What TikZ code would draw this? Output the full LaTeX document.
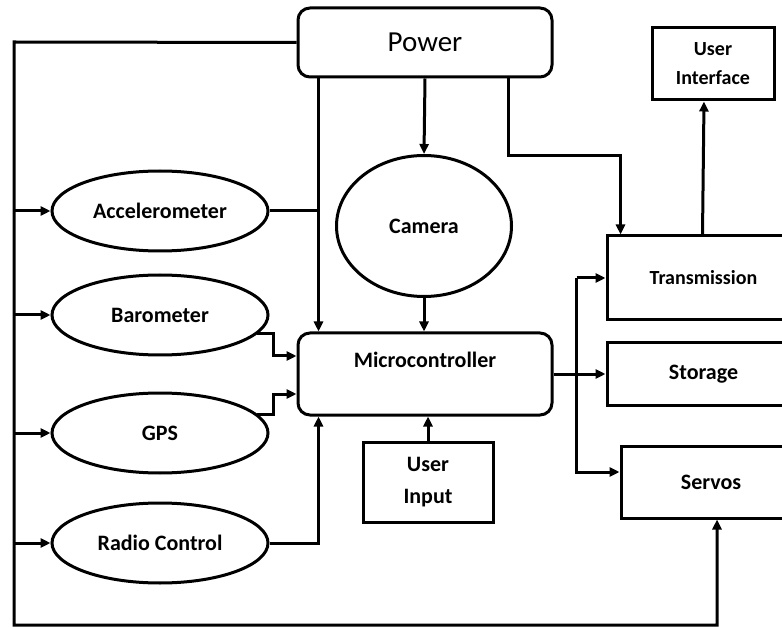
\documentclass[tikz,border=0pt]{standalone}
\usepackage{fontspec}
\setmainfont{Carlito}
\usetikzlibrary{shapes.geometric,arrows.meta,calc}
\begin{document}
\begin{tikzpicture}[x=1pt,y=-1pt,
  line width=3pt,
  arr/.style={-{Triangle[length=10pt,width=9pt]}},
  txt/.style={font=\fontsize{22}{28}\selectfont\bfseries},
  ell/.style={draw,ellipse,inner sep=0pt,minimum width=216pt,minimum height=80pt,txt},
  rbox/.style={draw,rounded corners=12pt,inner sep=0pt},
  sbox/.style={draw,rectangle,inner sep=0pt,txt,align=center}]
\useasboundingbox (0,0) rectangle (782,628);
\clip (0,0) rectangle (782,628);
\fill[white] (0,0) rectangle (782,628);
% nodes
\node[rbox,minimum width=254pt,minimum height=69pt,font=\fontsize{29}{34}\selectfont] (pw) at (425,42.5) {Power};
\node[ell] (acc) at (160,211) {Accelerometer};
\node[ell] (baro) at (160,315) {Barometer};
\node[ell] (gps) at (160,433) {GPS};
\node[ell] (rc) at (160,543) {Radio Control};
\node[ell,minimum width=175pt,minimum height=141pt] (cam) at (424,226) {Camera};
\node[rbox,minimum width=254pt,minimum height=82pt] (mc) at (425,374) {};
\node[txt,anchor=center] (mct) at ($(mc.center)+(0,-14)$) {Microcontroller};
\node[sbox,minimum width=130pt,minimum height=80pt,font=\fontsize{22}{32}\selectfont\bfseries] (uin) at (428,482) {User\\Input};
\node[sbox,minimum width=122pt,minimum height=72pt,font=\fontsize{20}{29}\selectfont\bfseries] (uif) at (713,64) {User\\Interface};
\node[sbox,minimum width=193pt,minimum height=84pt,font=\fontsize{20}{24}\selectfont\bfseries] (tx) at (703.5,278) {Transmission};
\node[sbox,minimum width=193pt,minimum height=62pt] (st) at (703.5,374) {Storage};
\node[sbox,minimum width=180pt,minimum height=72pt] (sv) at (711,482) {Servos};
% helper coordinates
\coordinate (tl) at (14,42);
\coordinate (bl) at (14,625);
\coordinate (p1) at ($(pw.south west)+(22,0)$);
\coordinate (p3) at ($(pw.south west)+(212,0)$);
\coordinate (tn) at ($(tx.north west)+(15,0)$);
\coordinate (bx) at ($(mc.east)+(23,0)$);
% power distribution
\draw[arr] (pw.west) -- (tl) -- (bl) -| ($(sv.south)+(6,0)$);
\draw[arr] (tl |- acc.west) -- (acc.west);
\draw[arr] (tl |- baro.west) -- (baro.west);
\draw[arr] (tl |- gps.west) -- (gps.west);
\draw[arr] (tl |- rc.west) -- (rc.west);
\draw[arr] (p1) -- (p1 |- mc.north);
\draw (acc.east) -- (acc.east -| p1);
\draw[arr] (pw.south) -- (cam.north);
\draw[arr] (p3) |- ($(tn)+(0,-79)$) -- (tn);
% sensors to microcontroller
\draw[arr] (cam.south) -- (cam.south |- mc.north);
\draw[arr] (baro.-11) -| ($(mc.west)+(-23,-18)$) -- ($(mc.west)+(0,-18)$);
\draw[arr] (gps.11) -| ($(mc.west)+(-23,20)$) -- ($(mc.west)+(0,20)$);
\draw[arr] (rc.east) -| (p1 |- mc.south);
\draw[arr] (uin.north) -- (uin.north |- mc.south);
% outputs
\draw[arr] (mc.east) -- (st.west);
\draw[arr] (bx |- tx.west) -- (tx.west);
\draw[arr] (bx |- tx.west) |- ($(sv.west)+(0,-10)$);
\draw[arr] ($(tx.north west)+(97,0)$) -- ($(uif.south)+(-9,0)$);
\end{tikzpicture}
\end{document}
